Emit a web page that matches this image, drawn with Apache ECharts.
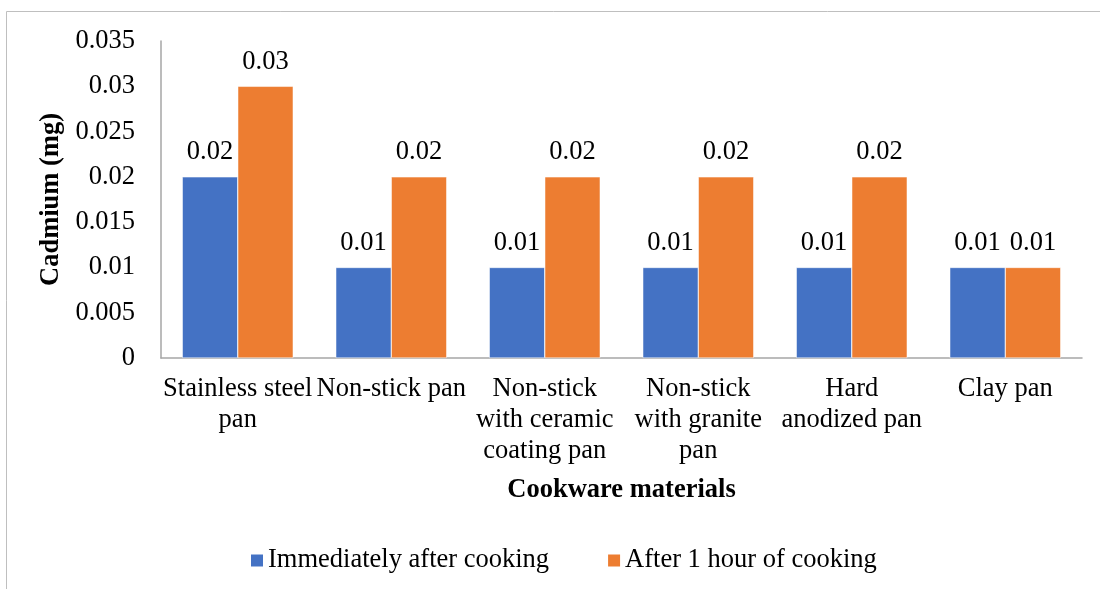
<!DOCTYPE html>
<html>
<head>
<meta charset="utf-8">
<script src="https://cdn.jsdelivr.net/npm/echarts@6/dist/echarts.min.js"></script>
<style>
  html, body { margin: 0; padding: 0; background: #fff; }
  #chart { width: 1100px; height: 589px; }
</style>
</head>
<body>
<div id="chart"></div>
<script>
// Cookware categories (wrapped as printed under the axis)
const categories = [
  'Stainless steel\npan',
  'Non-stick pan',
  'Non-stick\nwith ceramic\ncoating pan',
  'Non-stick\nwith granite\npan',
  'Hard\nanodized pan',
  'Clay pan'
];
// Cadmium released (mg)
const immediate = [0.02, 0.01, 0.01, 0.01, 0.01, 0.01];
const afterHour = [0.03, 0.02, 0.02, 0.02, 0.02, 0.01];
const seriesNames = ['Immediately after cooking', 'After 1 hour of cooking'];
const yTicks = { min: 0, max: 0.035, interval: 0.005 };

const FONT = '"Liberation Serif", "Times New Roman", serif';
const FS = 26.5;
const chart = echarts.init(document.getElementById('chart'), null, { renderer: 'canvas' });

const labelStyle = {
  show: true,
  position: 'top',
  distance: 11,
  color: '#000',
  fontFamily: FONT,
  fontSize: FS,
  formatter: p => String(p.value)
};

chart.setOption({
  animation: false,
  backgroundColor: '#fff',
  textStyle: { fontFamily: FONT, color: '#000' },
  graphic: [{
    type: 'rect',
    shape: { x: 6.5, y: 11.5, width: 1200, height: 700 },
    style: { fill: 'none', stroke: '#bfbfbf', lineWidth: 1 },
    silent: true,
    z: -10
  }],
  grid: { left: 161, right: 18, top: 41, bottom: 231, containLabel: false },
  legend: {
    top: 542,
    left: 244,
    itemWidth: 14,
    itemHeight: 14,
    itemGap: 57,
    icon: 'rect',
    textStyle: { fontFamily: FONT, fontSize: FS, color: '#000', padding: [0, 0, 0, -1] },
    data: seriesNames
  },
  xAxis: {
    type: 'category',
    data: categories,
    name: 'Cookware materials',
    nameLocation: 'middle',
    nameGap: 119,
    nameTextStyle: { fontFamily: FONT, fontSize: FS, fontWeight: 'bold', color: '#000' },
    axisLine: { lineStyle: { color: '#a6a6a6', width: 1.5 } },
    axisTick: { show: false },
    axisLabel: {
      interval: 0,
      margin: 16,
      fontFamily: FONT,
      fontSize: FS,
      lineHeight: 31,
      color: '#000',
      verticalAlign: 'top'
    }
  },
  yAxis: {
    type: 'value',
    min: yTicks.min,
    max: yTicks.max,
    interval: yTicks.interval,
    name: 'Cadmium (mg)',
    nameLocation: 'middle',
    nameGap: 90,
    nameRotate: 90,
    nameTextStyle: { fontFamily: FONT, fontSize: FS, fontWeight: 'bold', color: '#000' },
    axisLine: { show: true, lineStyle: { color: '#a6a6a6', width: 1.5 } },
    axisTick: { show: false },
    splitLine: { show: false },
    axisLabel: {
      margin: 26,
      fontFamily: FONT,
      fontSize: FS,
      color: '#000',
      formatter: v => String(+v.toFixed(3))
    }
  },
  series: [
    {
      name: seriesNames[0],
      type: 'bar',
      data: immediate,
      barGap: '0%',
      barCategoryGap: '27.7%',
      itemStyle: { color: '#4472c4', borderColor: '#fff', borderWidth: 0.5 },
      label: labelStyle
    },
    {
      name: seriesNames[1],
      type: 'bar',
      data: afterHour,
      itemStyle: { color: '#ed7d31', borderColor: '#fff', borderWidth: 0.5 },
      label: labelStyle
    }
  ]
});
</script>
</body>
</html>
